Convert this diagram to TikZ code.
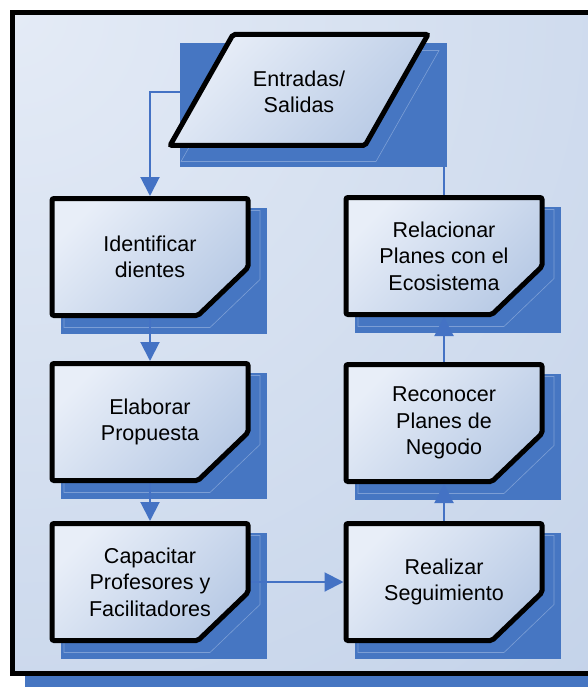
\documentclass[tikz,border=0pt]{standalone}
\usepackage{fontspec}
\setmainfont{Liberation Sans}
\usetikzlibrary{arrows.meta}

\pgfdeclarelayer{frame}
\pgfdeclarelayer{lowlink}
\pgfdeclarelayer{shade}
\pgfdeclarelayer{link}
\pgfdeclarelayer{boxfill}
\pgfsetlayers{frame,lowlink,shade,link,boxfill,main}

\definecolor{shadowblue}{HTML}{4676C2}
\definecolor{linkblue}{HTML}{4472C4}
\definecolor{ghostblue}{HTML}{A9C0E6}
\definecolor{framelight}{HTML}{E4EBF6}
\definecolor{framedark}{HTML}{B7C9E4}
\definecolor{boxlight}{HTML}{E8EEF8}
\definecolor{boxdark}{HTML}{B8CAE5}

\newcommand{\labelfont}{\fontsize{21.5}{26.5}\selectfont}

\begin{document}
\begin{tikzpicture}[x=1pt,y=-1pt,line join=round,
  stepbox/.style={rectangle,minimum width=196pt,minimum height=117pt,
    inner sep=0pt,outer sep=0pt,align=center,font=\labelfont},
  boxface/.style={draw=black,line width=5pt,rounded corners=2pt,
    top color=boxlight,bottom color=boxdark,shading angle=45},
  ghost/.style={draw=ghostblue,line width=0.6pt,opacity=0.55},
  flow/.style={draw=linkblue,line width=2pt,shorten >=2.5pt,
    -{Triangle[width=19pt,length=19pt]}}]

\useasboundingbox (0,0) rectangle (587,687);

% process steps
\node[stepbox] (b1) at (150,257) {Identificar\\c\kern-2.7pt lientes};
\node[stepbox] (b2) at (150,422) {Elaborar\\Propuesta};
\node[stepbox] (b3) at (150,582) {Capacitar\\Profesores y\\Facilitadores};
\node[stepbox] (r1) at (444,256) {Relacionar\\Planes con el\\Ecosistema};
\node[stepbox] (r2) at (444,423) {Reconocer\\Planes de\\Negoc\kern-2.7pt io};
\node[stepbox] (r3) at (444,582) {Realizar\\Seguimiento};

% input / output parallelogram
\coordinate (ioTL) at (233,34.5);
\coordinate (ioTR) at (428,34.5);
\coordinate (ioBR) at (365,145.5);
\coordinate (ioBL) at (170,145.5);
\node[align=center,inner sep=0pt,font=\labelfont] (io) at (299,92) {Entradas/\\Salidas};

% outer frame
\begin{pgfonlayer}{frame}
  \fill[white] (0,0) rectangle (587,687);
  \fill[shadowblue] (25,25) rectangle (610,700);
  \begin{scope}
    \clip (12.5,12.5) rectangle (610,673);
    \shade[inner color=framelight,outer color=framedark] (12.5,12.5) circle (1250);
  \end{scope}
  \draw[line width=5pt] (12.5,12.5) rectangle (610,673);
\end{pgfonlayer}

% links running behind the parallelogram
\begin{pgfonlayer}{lowlink}
  \draw[flow] (io.west) -| (b1.north);
  \draw[flow] (r1.north) |- (io.east);
\end{pgfonlayer}

% drop shadows
\begin{pgfonlayer}{shade}
  \fill[shadowblue] (180,43) rectangle (447,167);
  \draw[ghost] ([shift={(11,16)}]ioTL) -- ([shift={(11,16)}]ioTR)
    -- ([shift={(11,16)}]ioBR) -- ([shift={(11,16)}]ioBL) -- cycle;
  \foreach \n in {b1,b2,b3,r1,r2,r3}{
    \fill[shadowblue] ([shift={(8.5,9.5)}]\n.north west)
      rectangle ([shift={(18.5,18.5)}]\n.south east);
    \draw[ghost] ([shift={(12,12)}]\n.north west) -- ([shift={(12,12)}]\n.north east)
      -- ([shift={(12,-36)}]\n.south east) -- ([shift={(-38,12)}]\n.south east)
      -- ([shift={(12,12)}]\n.south west) -- cycle;
  }
\end{pgfonlayer}

% links between steps
\begin{pgfonlayer}{link}
  \draw[flow] (b1.south) -- (b2.north);
  \draw[flow] (b2.south) -- (b3.north);
  \draw[flow] (b3.east) -- (r3.west);
  \draw[flow] (r3.north) -- (r2.south);
  \draw[flow] (r2.north) -- (r1.south);
\end{pgfonlayer}

% shape faces
\begin{pgfonlayer}{boxfill}
  \path[boxface] (ioTL) -- (ioTR) -- (ioBR) -- (ioBL) -- cycle;
  \foreach \n in {b1,b2,b3,r1,r2,r3}{
    \path[boxface] (\n.north west) -- (\n.north east)
      -- ([shift={(0,-48)}]\n.south east) -- ([shift={(-50,0)}]\n.south east)
      -- (\n.south west) -- cycle;
  }
\end{pgfonlayer}
\end{tikzpicture}
\end{document}
